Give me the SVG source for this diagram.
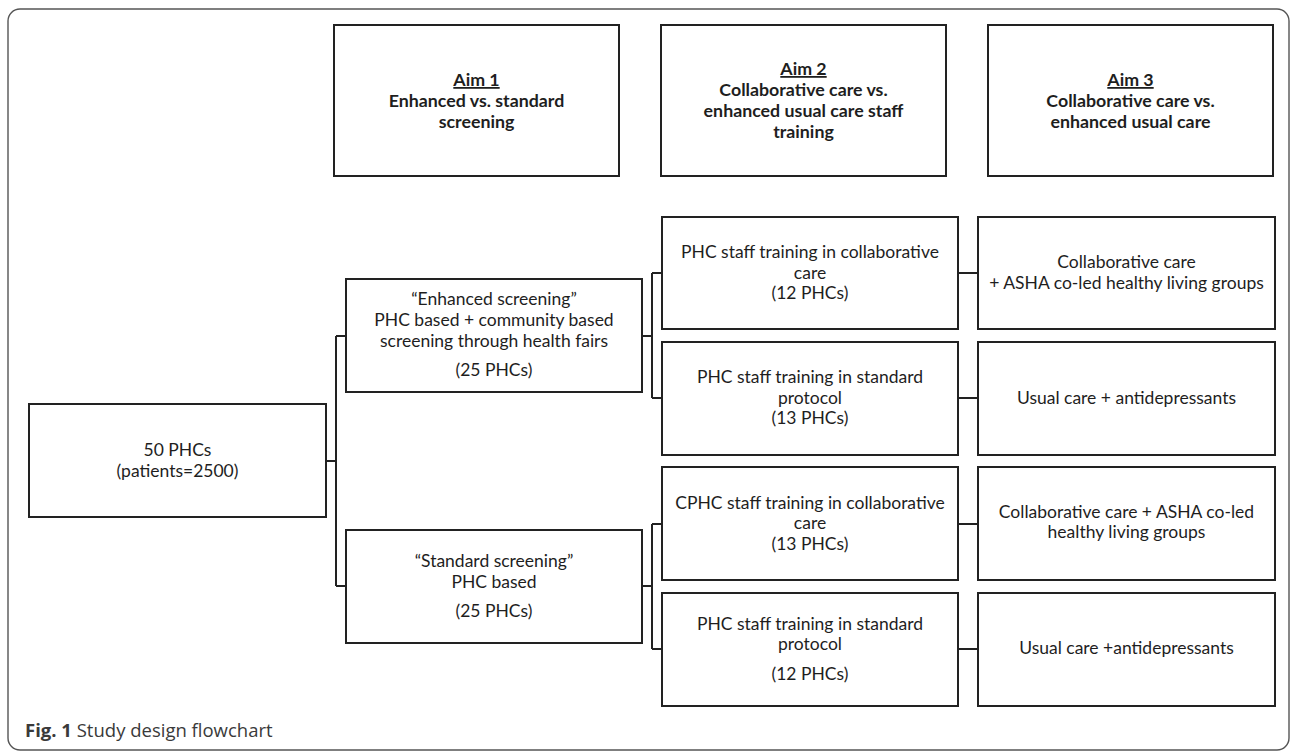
<svg xmlns="http://www.w3.org/2000/svg" width="1292" height="751" viewBox="0 0 1292 751">
<style>
.frame{fill:none;stroke:#555;stroke-width:1.4}
.box{fill:#fff;stroke:#222;stroke-width:2}
.conn{fill:none;stroke:#222;stroke-width:2}
text{font-family:Lato,"Open Sans","Liberation Sans",sans-serif;fill:#1e1e1e;text-anchor:middle}
.t{font-size:17.5px}
.h{font-size:17.8px;font-weight:bold}
.u{text-decoration:underline}
.cap{font-family:"Open Sans","Noto Sans",sans-serif;font-size:18.5px;fill:#3a3a3a;text-anchor:start}
</style>
<rect width="1292" height="751" fill="#fff"/>
<rect class="frame" x="8" y="9" width="1281" height="741" rx="12"/>

<g id="aim1">
<rect class="box" x="334" y="25" width="285" height="151"/>
<text class="h" x="476.5" y="86"><tspan class="u">Aim 1</tspan></text>
<text class="h" x="476.5" y="107">Enhanced vs. standard</text>
<text class="h" x="476.5" y="128">screening</text>
</g>
<g id="aim2">
<rect class="box" x="661" y="25" width="285" height="151"/>
<text class="h" x="803.5" y="75"><tspan class="u">Aim 2</tspan></text>
<text class="h" x="803.5" y="96">Collaborative care vs.</text>
<text class="h" x="803.5" y="117">enhanced usual care staff</text>
<text class="h" x="803.5" y="138">training</text>
</g>
<g id="aim3">
<rect class="box" x="988" y="25" width="285" height="151"/>
<text class="h" x="1130.5" y="86"><tspan class="u">Aim 3</tspan></text>
<text class="h" x="1130.5" y="107">Collaborative care vs.</text>
<text class="h" x="1130.5" y="128">enhanced usual care</text>
</g>

<g id="connectors">
<path class="conn" d="M326,461 H336 M336,336 V586 M336,336 H346 M336,586 H346"/>
<path class="conn" d="M642,336 H652 M652,273 V398 M652,273 H662 M652,398 H662"/>
<path class="conn" d="M642,586 H652 M652,524 V649 M652,524 H662 M652,649 H662"/>
<path class="conn" d="M958,273 H978 M958,398 H978 M958,524 H978 M958,649 H978"/>
</g>

<g id="root">
<rect class="box" x="29" y="404" width="297" height="113"/>
<text class="t" x="177.5" y="456">50 PHCs</text>
<text class="t" x="177.5" y="477">(patients=2500)</text>
</g>

<g id="enhanced">
<rect class="box" x="346" y="279" width="296" height="113"/>
<text class="t" x="494" y="305">“Enhanced screening”</text>
<text class="t" x="494" y="326">PHC based + community based</text>
<text class="t" x="494" y="347">screening through health fairs</text>
<text class="t" x="494" y="376">(25 PHCs)</text>
</g>

<g id="standard">
<rect class="box" x="346" y="530" width="296" height="113"/>
<text class="t" x="494" y="567">“Standard screening”</text>
<text class="t" x="494" y="588">PHC based</text>
<text class="t" x="494" y="617">(25 PHCs)</text>
</g>

<g id="train1">
<rect class="box" x="662" y="217" width="296" height="112"/>
<text class="t" x="810" y="258">PHC staff training in collaborative</text>
<text class="t" x="810" y="279">care</text>
<text class="t" x="810" y="299">(12 PHCs)</text>
</g>
<g id="train2">
<rect class="box" x="662" y="342" width="296" height="113"/>
<text class="t" x="810" y="383">PHC staff training in standard</text>
<text class="t" x="810" y="404">protocol</text>
<text class="t" x="810" y="424">(13 PHCs)</text>
</g>
<g id="train3">
<rect class="box" x="662" y="467" width="296" height="113"/>
<text class="t" x="810" y="509">CPHC staff training in collaborative</text>
<text class="t" x="810" y="529">care</text>
<text class="t" x="810" y="550">(13 PHCs)</text>
</g>
<g id="train4">
<rect class="box" x="662" y="593" width="296" height="113"/>
<text class="t" x="810" y="630">PHC staff training in standard</text>
<text class="t" x="810" y="650">protocol</text>
<text class="t" x="810" y="680">(12 PHCs)</text>
</g>

<g id="care1">
<rect class="box" x="978" y="217" width="297" height="112"/>
<text class="t" x="1126.5" y="268">Collaborative care</text>
<text class="t" x="1126.5" y="289">+ ASHA co-led healthy living groups</text>
</g>
<g id="care2">
<rect class="box" x="978" y="342" width="297" height="113"/>
<text class="t" x="1126.5" y="404">Usual care + antidepressants</text>
</g>
<g id="care3">
<rect class="box" x="978" y="467" width="297" height="113"/>
<text class="t" x="1126.5" y="518">Collaborative care + ASHA co-led</text>
<text class="t" x="1126.5" y="538">healthy living groups</text>
</g>
<g id="care4">
<rect class="box" x="978" y="593" width="297" height="113"/>
<text class="t" x="1126.5" y="654">Usual care +antidepressants</text>
</g>

<text class="cap" x="25" y="737"><tspan font-weight="bold">Fig. 1</tspan> Study design flowchart</text>
</svg>
